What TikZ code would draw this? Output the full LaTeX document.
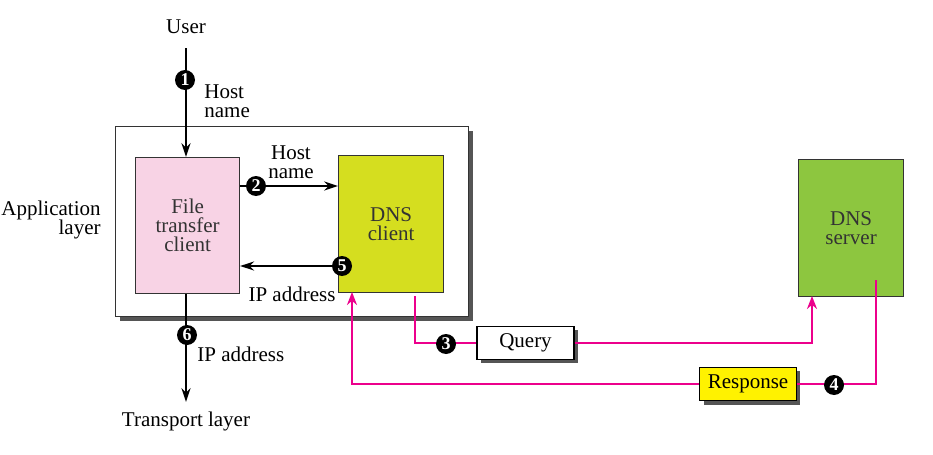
\documentclass[tikz,border=0pt]{standalone}
\usepackage{fontspec}
\setmainfont{Liberation Serif}
\usepackage{tikz}
\usetikzlibrary{arrows.meta}
\usetikzlibrary{positioning}

\definecolor{ftcpink}{HTML}{F8D3E5}
\definecolor{dnsyellow}{HTML}{D5DE1F}
\definecolor{srvgreen}{HTML}{8DC63F}
\definecolor{respyellow}{HTML}{FFF200}
\definecolor{magline}{HTML}{EC008C}
\definecolor{shadowgray}{HTML}{555555}

\tikzset{
  txt/.style={font=\fontsize{10.5}{9.6}\selectfont, align=center, inner sep=0pt},
  blk/.style={draw=black!80, line width=0.6pt, anchor=north west, inner sep=0pt},
  shbox/.style={draw=black, line width=0.6pt, inner sep=0pt, minimum width=48.5pt, minimum height=16.5pt,
    font=\fontsize{10.5}{11.5}\selectfont},
  num/.style={circle, fill=black, text=white, inner sep=0pt, minimum size=10pt,
    font=\bfseries\fontsize{9}{9}\selectfont},
  arr/.style={-{Stealth[length=7pt,width=4.6pt]}, line width=0.9pt},
  mg/.style={draw=magline, line width=1.4pt},
  mgarr/.style={mg, -{Stealth[length=6.5pt,width=5pt]}}
}

\begin{document}
\begin{tikzpicture}[x=0.5pt, y=-0.5pt]
  \useasboundingbox (0,0) rectangle (933,455);
  % application layer box
  \fill[shadowgray] (120,131) rectangle (473,321);
  \node[blk, fill=white, minimum width=176.5pt, minimum height=95pt] (app) at (115,126) {};
  \node[txt, align=right, anchor=east] (applbl) at (101,220) {Application\\layer};
  % boxes
  \node[blk, fill=ftcpink, minimum width=52pt, minimum height=68pt] (ftc) at (135,157) {};
  \node[txt, text=black!80] at (ftc.center) {File\\transfer\\client};
  \node[blk, fill=dnsyellow, minimum width=52.5pt, minimum height=68.5pt] (dnsc) at (338,155) {};
  \node[txt, text=black!80] at (dnsc.center) {DNS\\client};
  \node[blk, fill=srvgreen, minimum width=52.5pt, minimum height=68.5pt] (srv) at (798,159) {};
  \node[txt, text=black!80] at (srv.center) {DNS\\server};
  % query and response
  \fill[shadowgray] (481,330) rectangle (578,363);
  \node[shbox, fill=white] (query) at (525.5,343) {Query};
  \fill[shadowgray] (704,371) rectangle (800,405);
  \node[shbox, fill=respyellow] (resp) at (748,384) {Response};
  % texts
  \node[txt] (user) at (186,27) {User};
  \node[txt] (trans) at (186,421) {Transport layer};
  \node[txt, align=left, anchor=west] (hn1) at (204,101) {Host\\name};
  \node[txt] (hn2) at (291,162) {Host\\name};
  \node[txt] (ip5) at (292,294) {IP address};
  \node[txt, align=left, anchor=west] (ip6) at (197,354) {IP address};
  % black arrows
  \coordinate (u1) at (186,48);
  \coordinate (t6) at (186,402);
  \draw[arr] (u1) -- (ftc.north -| u1);
  \draw[arr] (ftc.east |- 0,186) -- (dnsc.west |- 0,186);
  \draw[arr] (dnsc.west |- 0,266) -- (ftc.east |- 0,266);
  \draw[arr] (ftc.south -| t6) -- (t6);
  % magenta paths
  \coordinate (q3) at (415,296);
  \coordinate (srvin) at (812,296);
  \coordinate (r4) at (876,280);
  \coordinate (cin) at (352,292);
  \draw[mg] (q3) |- (query.west);
  \draw[mgarr] (query.east) -| (srvin);
  \draw[mg] (r4) |- (resp.east);
  \draw[mgarr] (resp.west) -| (cin);
  % step numbers
  \node[num] (n1) at (185,80) {1};
  \node[num] (n2) at (256,186) {2};
  \node[num] (n3) at (446,344) {3};
  \node[num] (n4) at (834,385) {4};
  \node[num] (n5) at (342,266) {5};
  \node[num] (n6) at (187,335) {6};
\end{tikzpicture}
\end{document}
